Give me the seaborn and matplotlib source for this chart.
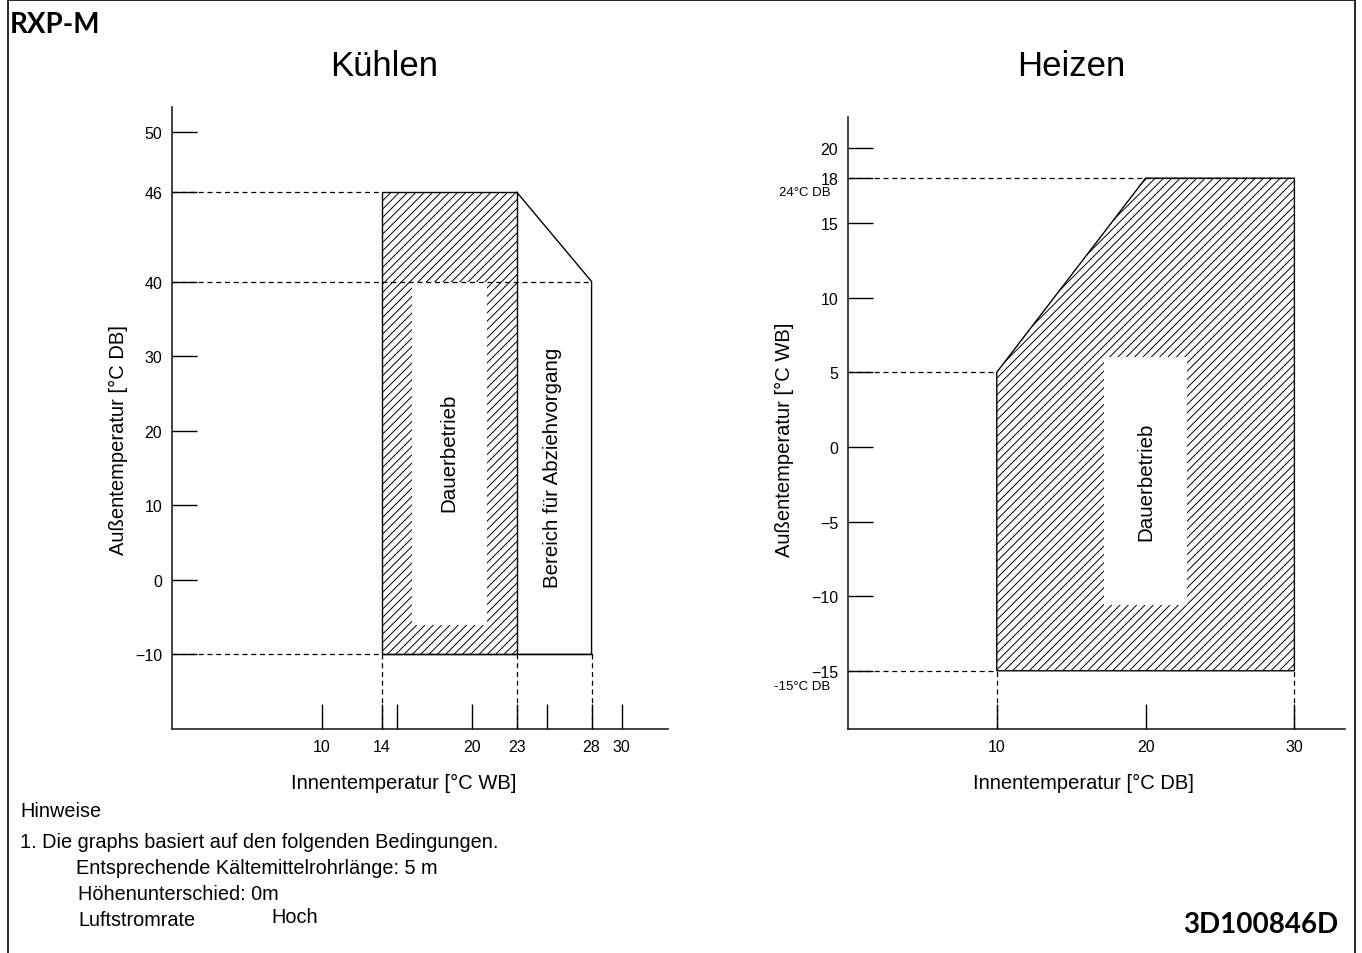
"""
Operating range charts (Kühlen / Heizen) for RXP-M.
Saves out.png.
"""

import numpy as np
import matplotlib
matplotlib.use("Agg")
import matplotlib.pyplot as plt
from matplotlib.patches import Rectangle
from matplotlib.ticker import NullLocator
import seaborn as sns

# --- Kühlen (cooling) ---
cool_xticks = [10, 14, 15, 20, 23, 25, 28, 30]
cool_xticklabels = ["10", "14", "", "20", "23", "", "28", "30"]
cool_yticks = [-10, 0, 10, 20, 30, 40, 46, 50]
cool_yticklabels = ["\u221210", "0", "10", "20", "30", "40", "46", "50"]
cool_area_x = [14, 23, 23, 14, 14]
cool_area_y = [-10, -10, 46, 46, -10]
cool_pulldown_x = [23, 28, 28, 23]
cool_pulldown_y = [46, 40, -10, -10]
cool_gap_x = [16, 21]
cool_gap_y = [-6, 40]
cool_hguides = [(46, 14), (40, 28), (-10, 14)]   # (y, x end)
cool_vguides = [14, 23, 28]

# --- Heizen (heating) ---
heat_xticks = [10, 20, 30]
heat_xticklabels = ["10", "20", "30"]
heat_yticks = [-15, -10, -5, 0, 5, 10, 15, 18, 20]
heat_yticklabels = ["\u221215", "\u221210", "\u22125", "0", "5", "10", "15", "18", "20"]
heat_area_x = [10, 10, 20, 30, 30, 10]
heat_area_y = [-15, 5, 18, 18, -15, -15]
heat_gap_x = [17.2, 22.8]
heat_gap_y = [-10.6, 6]
heat_hguides = [(18, 30), (5, 10), (-15, 10)]
heat_vguides = [10, 30]

notes = [
    "Hinweise",
    "1. Die graphs basiert auf den folgenden Bedingungen.",
    "Entsprechende Kältemittelrohrlänge: 5 m",
    "Höhenunterschied: 0m",
    "Luftstromrate",
]

W, H = 1362, 954
DASH = (0, (4, 3))


def fx(px):
    return px / W


def fy(py):
    return 1 - py / H


def brk_fwd(y):
    y = np.asarray(y, dtype=float)
    return np.where(y > 40, 40 + 2 * (y - 40), y)


def brk_inv(t):
    t = np.asarray(t, dtype=float)
    return np.where(t > 40, 40 + (t - 40) / 2, t)


def style_axis(ax, xticks, xlabels, yticks, ylabels):
    ax.set_xticks(xticks)
    ax.set_xticklabels(xlabels)
    ax.set_yticks(yticks)
    ax.set_yticklabels(ylabels)
    ax.yaxis.set_minor_locator(NullLocator())
    ax.xaxis.set_minor_locator(NullLocator())
    ax.tick_params(left=True, bottom=True, direction="in", length=18,
                   width=1, color="black", labelcolor="black",
                   labelsize=11.5, pad=7)
    sns.despine(ax=ax)
    for side in ["left", "bottom"]:
        ax.spines[side].set_color("#222222")
        ax.spines[side].set_linewidth(1.2)
    ax.set_facecolor("none")


def draw_guides(ax, hguides, vguides, y_low, y_from):
    for y, xe in hguides:
        ax.plot([0, xe], [y, y], color="black", lw=0.9, ls=DASH, zorder=4)
    for x in vguides:
        ax.plot([x, x], [y_low, y_from], color="black", lw=0.9, ls=DASH, zorder=4)


sns.set_theme(style="white")
plt.rcParams["font.family"] = ["Liberation Sans", "DejaVu Sans"]
plt.rcParams["hatch.linewidth"] = 0.7
plt.rcParams["text.color"] = "black"
plt.rcParams["axes.labelcolor"] = "black"

fig = plt.figure(figsize=(W / 100, H / 100), dpi=100)

# ---------------- Kühlen ----------------
ax1 = fig.add_axes([fx(172), fy(730), fx(668) - fx(172), fy(108) - fy(730)])
ax1.set_yscale("function", functions=(brk_fwd, brk_inv))
ax1.set_xlim(0, 33.1)
ax1.set_ylim(-20, 51.7)

ax1.fill(cool_area_x, cool_area_y, facecolor="white", edgecolor="black",
         hatch="////", lw=1, zorder=2)
ax1.fill_between(cool_gap_x, cool_gap_y[0], cool_gap_y[1], color="white",
                 lw=0, zorder=3)
sns.lineplot(x=cool_pulldown_x, y=cool_pulldown_y, sort=False, estimator=None,
             color="black", lw=1, ax=ax1, zorder=4)
ax1.plot([14, 28], [-10, -10], color="black", lw=1, zorder=4)
draw_guides(ax1, cool_hguides, cool_vguides, -20, -10)
style_axis(ax1, cool_xticks, cool_xticklabels, cool_yticks, cool_yticklabels)

ax1.text(18.5, 17.1, "Dauerbetrieb", rotation=90, ha="center", va="center",
         fontsize=14.8, zorder=5)
ax1.text(25.4, 15.2, "Bereich für Abziehvorgang", rotation=90, ha="center",
         va="center", fontsize=14.8, zorder=5)
ax1.set_xlabel("Innentemperatur [°C WB]", fontsize=14.5)
ax1.set_ylabel("Außentemperatur [°C DB]", fontsize=14.5)
ax1.xaxis.set_label_coords((404 - 172) / 496, -44 / 622)
ax1.yaxis.set_label_coords(-44 / 496, (730 - 440) / 622)

# ---------------- Heizen ----------------
ax2 = fig.add_axes([fx(848), fy(730), fx(1345) - fx(848), fy(118) - fy(730)])
ax2.set_xlim(0, 33.4)
ax2.set_ylim(-18.9, 22.1)

ax2.fill(heat_area_x, heat_area_y, facecolor="white", edgecolor="black",
         hatch="////", lw=1, zorder=2)
ax2.fill_between(heat_gap_x, heat_gap_y[0], heat_gap_y[1], color="white",
                 lw=0, zorder=3)
draw_guides(ax2, heat_hguides, heat_vguides, -18.9, -15)
style_axis(ax2, heat_xticks, heat_xticklabels, heat_yticks, heat_yticklabels)

ax2.text(20, -2.3, "Dauerbetrieb", rotation=90, ha="center", va="center",
         fontsize=14.8, zorder=5)
ax2.text(-1.2, 17.1, "24°C DB", ha="right", va="center", fontsize=9.5)
ax2.text(-1.2, -16.0, "-15°C DB", ha="right", va="center", fontsize=9.5)
ax2.set_xlabel("Innentemperatur [°C DB]", fontsize=14.5)
ax2.set_ylabel("Außentemperatur [°C WB]", fontsize=14.5)
ax2.xaxis.set_label_coords((1083 - 848) / 497, -44 / 612)
ax2.yaxis.set_label_coords(-54 / 497, (730 - 440) / 612)

# ---------------- headings, notes, frame ----------------
fig.text(fx(384), fy(66), "Kühlen", fontsize=25, ha="center", va="center")
fig.text(fx(1071), fy(66), "Heizen", fontsize=25, ha="center", va="center")
fig.text(fx(10), fy(25), "RXP-M", fontsize=20, fontweight="bold",
         family="Lato", ha="left", va="center")
fig.text(fx(1338), fy(925), "3D100846D", fontsize=20, fontweight="bold",
         family="Lato", ha="right", va="center")

note_pos = [(20, 812), (20, 843), (76, 869), (78, 895), (78, 921)]
for (px, py), line in zip(note_pos, notes):
    fig.text(fx(px), fy(py), line, fontsize=14.3, ha="left", va="center")
fig.text(fx(271), fy(918), "Hoch", fontsize=14.3, ha="left", va="center")

fig.patches.append(Rectangle((fx(8), -0.02), fx(1355) - fx(8), fy(1) + 0.02,
                             transform=fig.transFigure, fill=False,
                             edgecolor="black", lw=1.2))

fig.savefig("out.png", dpi=100)
